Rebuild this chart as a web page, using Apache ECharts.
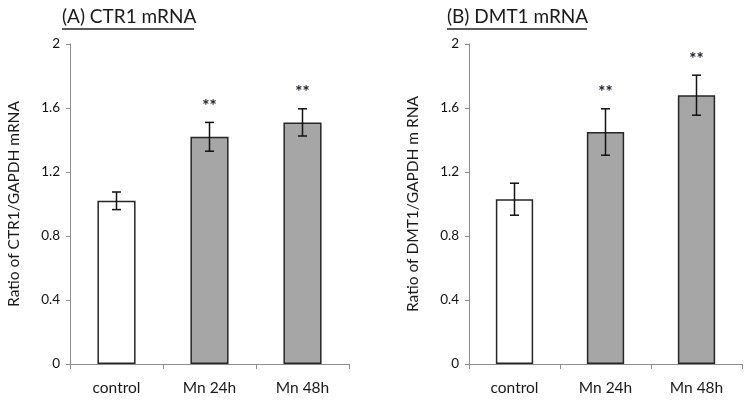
<!DOCTYPE html>
<html>
<head>
<meta charset="utf-8">
<script src="https://cdn.jsdelivr.net/npm/echarts@6/dist/echarts.min.js"></script>
<style>html,body{margin:0;padding:0;background:#fff}#c{width:750px;height:403px}</style>
</head>
<body>
<div id="c"></div>
<script>
const categories = ["control", "Mn 24h", "Mn 48h"];
const ctr1Mean = [1.02, 1.42, 1.51];
const ctr1Err = [0.055, 0.09, 0.085];
const dmt1Mean = [1.03, 1.45, 1.68];
const dmt1Err = [0.10, 0.145, 0.125];
const significance = ["", "**", "**"];
const yTicks = [0, 0.4, 0.8, 1.2, 1.6, 2];
const barColors = ["#ffffff", "#a6a6a6", "#a6a6a6"];

const FONT = "Lato";
const chart = echarts.init(document.getElementById('c'), null, {renderer: 'canvas'});

function xAxis(gi) {
  return {
    type: 'category', gridIndex: gi, data: categories,
    axisLine: {lineStyle: {color: '#8c8c8c', width: 1}},
    axisTick: {show: true, alignWithLabel: false, length: 5, lineStyle: {color: '#8c8c8c'}},
    axisLabel: {color: '#1a1a1a', fontFamily: FONT, fontSize: 15.5, margin: 16}
  };
}
function yAxis(gi, name) {
  return {
    type: 'value', gridIndex: gi, min: 0, max: 2, interval: 0.4,
    name: name, nameLocation: 'middle', nameGap: 48, nameRotate: 90,
    nameTextStyle: {color: '#1a1a1a', fontFamily: FONT, fontSize: 15.5},
    splitLine: {show: false},
    axisLine: {show: true, lineStyle: {color: '#8c8c8c', width: 1}},
    axisTick: {show: true, length: 4, lineStyle: {color: '#8c8c8c'}},
    axisLabel: {color: '#111', fontFamily: FONT, fontSize: 13.5, margin: 10,
      formatter: v => String(+v.toFixed(1))}
  };
}
function barSeries(gi, means) {
  return {
    type: 'bar', xAxisIndex: gi, yAxisIndex: gi, barWidth: '41%',
    data: means.map((v, i) => ({value: v, itemStyle: {color: barColors[i]}})),
    itemStyle: {borderColor: '#262626', borderWidth: 1.5},
    z: 2
  };
}
function errSeries(gi, means, errs) {
  return {
    type: 'custom', xAxisIndex: gi, yAxisIndex: gi, z: 5,
    data: means.map((m, i) => [i, m - errs[i], m + errs[i]]),
    renderItem: function (params, api) {
      const x = api.coord([api.value(0), 0])[0];
      const lo = api.coord([api.value(0), api.value(1)])[1];
      const hi = api.coord([api.value(0), api.value(2)])[1];
      const cap = 4.5;
      const st = {stroke: '#111', lineWidth: 1.5};
      const children = [
        {type: 'line', shape: {x1: x, y1: lo, x2: x, y2: hi}, style: st},
        {type: 'line', shape: {x1: x - cap, y1: lo, x2: x + cap, y2: lo}, style: st},
        {type: 'line', shape: {x1: x - cap, y1: hi, x2: x + cap, y2: hi}, style: st}
      ];
      const s = significance[api.value(0)];
      if (s) {
        children.push({type: 'text', style: {text: s, x: x, y: hi - 16, align: 'center',
          verticalAlign: 'middle', fill: '#1a1a2a', font: 'bold 17px ' + FONT}});
      }
      return {type: 'group', children: children};
    }
  };
}

const option = {
  animation: false,
  backgroundColor: '#fff',
  grid: [
    {left: 70, right: 401, top: 44, bottom: 39},
    {left: 469, right: 8, top: 44, bottom: 39}
  ],
  xAxis: [xAxis(0), xAxis(1)],
  yAxis: [yAxis(0, 'Ratio of CTR1/GAPDH mRNA'), yAxis(1, 'Ratio of DMT1/GAPDH m RNA')],
  series: [
    barSeries(0, ctr1Mean), errSeries(0, ctr1Mean, ctr1Err),
    barSeries(1, dmt1Mean), errSeries(1, dmt1Mean, dmt1Err)
  ],
  graphic: [
    {type: 'text', left: 62, top: 7, style: {text: '(A) CTR1 mRNA', fill: '#1a1a1a', font: '19px ' + FONT}},
    {type: 'line', shape: {x1: 62, y1: 29, x2: 194, y2: 29}, style: {stroke: '#222', lineWidth: 1.3}},
    {type: 'text', left: 447, top: 7, style: {text: '(B) DMT1 mRNA', fill: '#1a1a1a', font: '19px ' + FONT}},
    {type: 'line', shape: {x1: 447, y1: 29, x2: 587, y2: 29}, style: {stroke: '#222', lineWidth: 1.3}}
  ]
};
chart.setOption(option);
</script>
</body>
</html>
